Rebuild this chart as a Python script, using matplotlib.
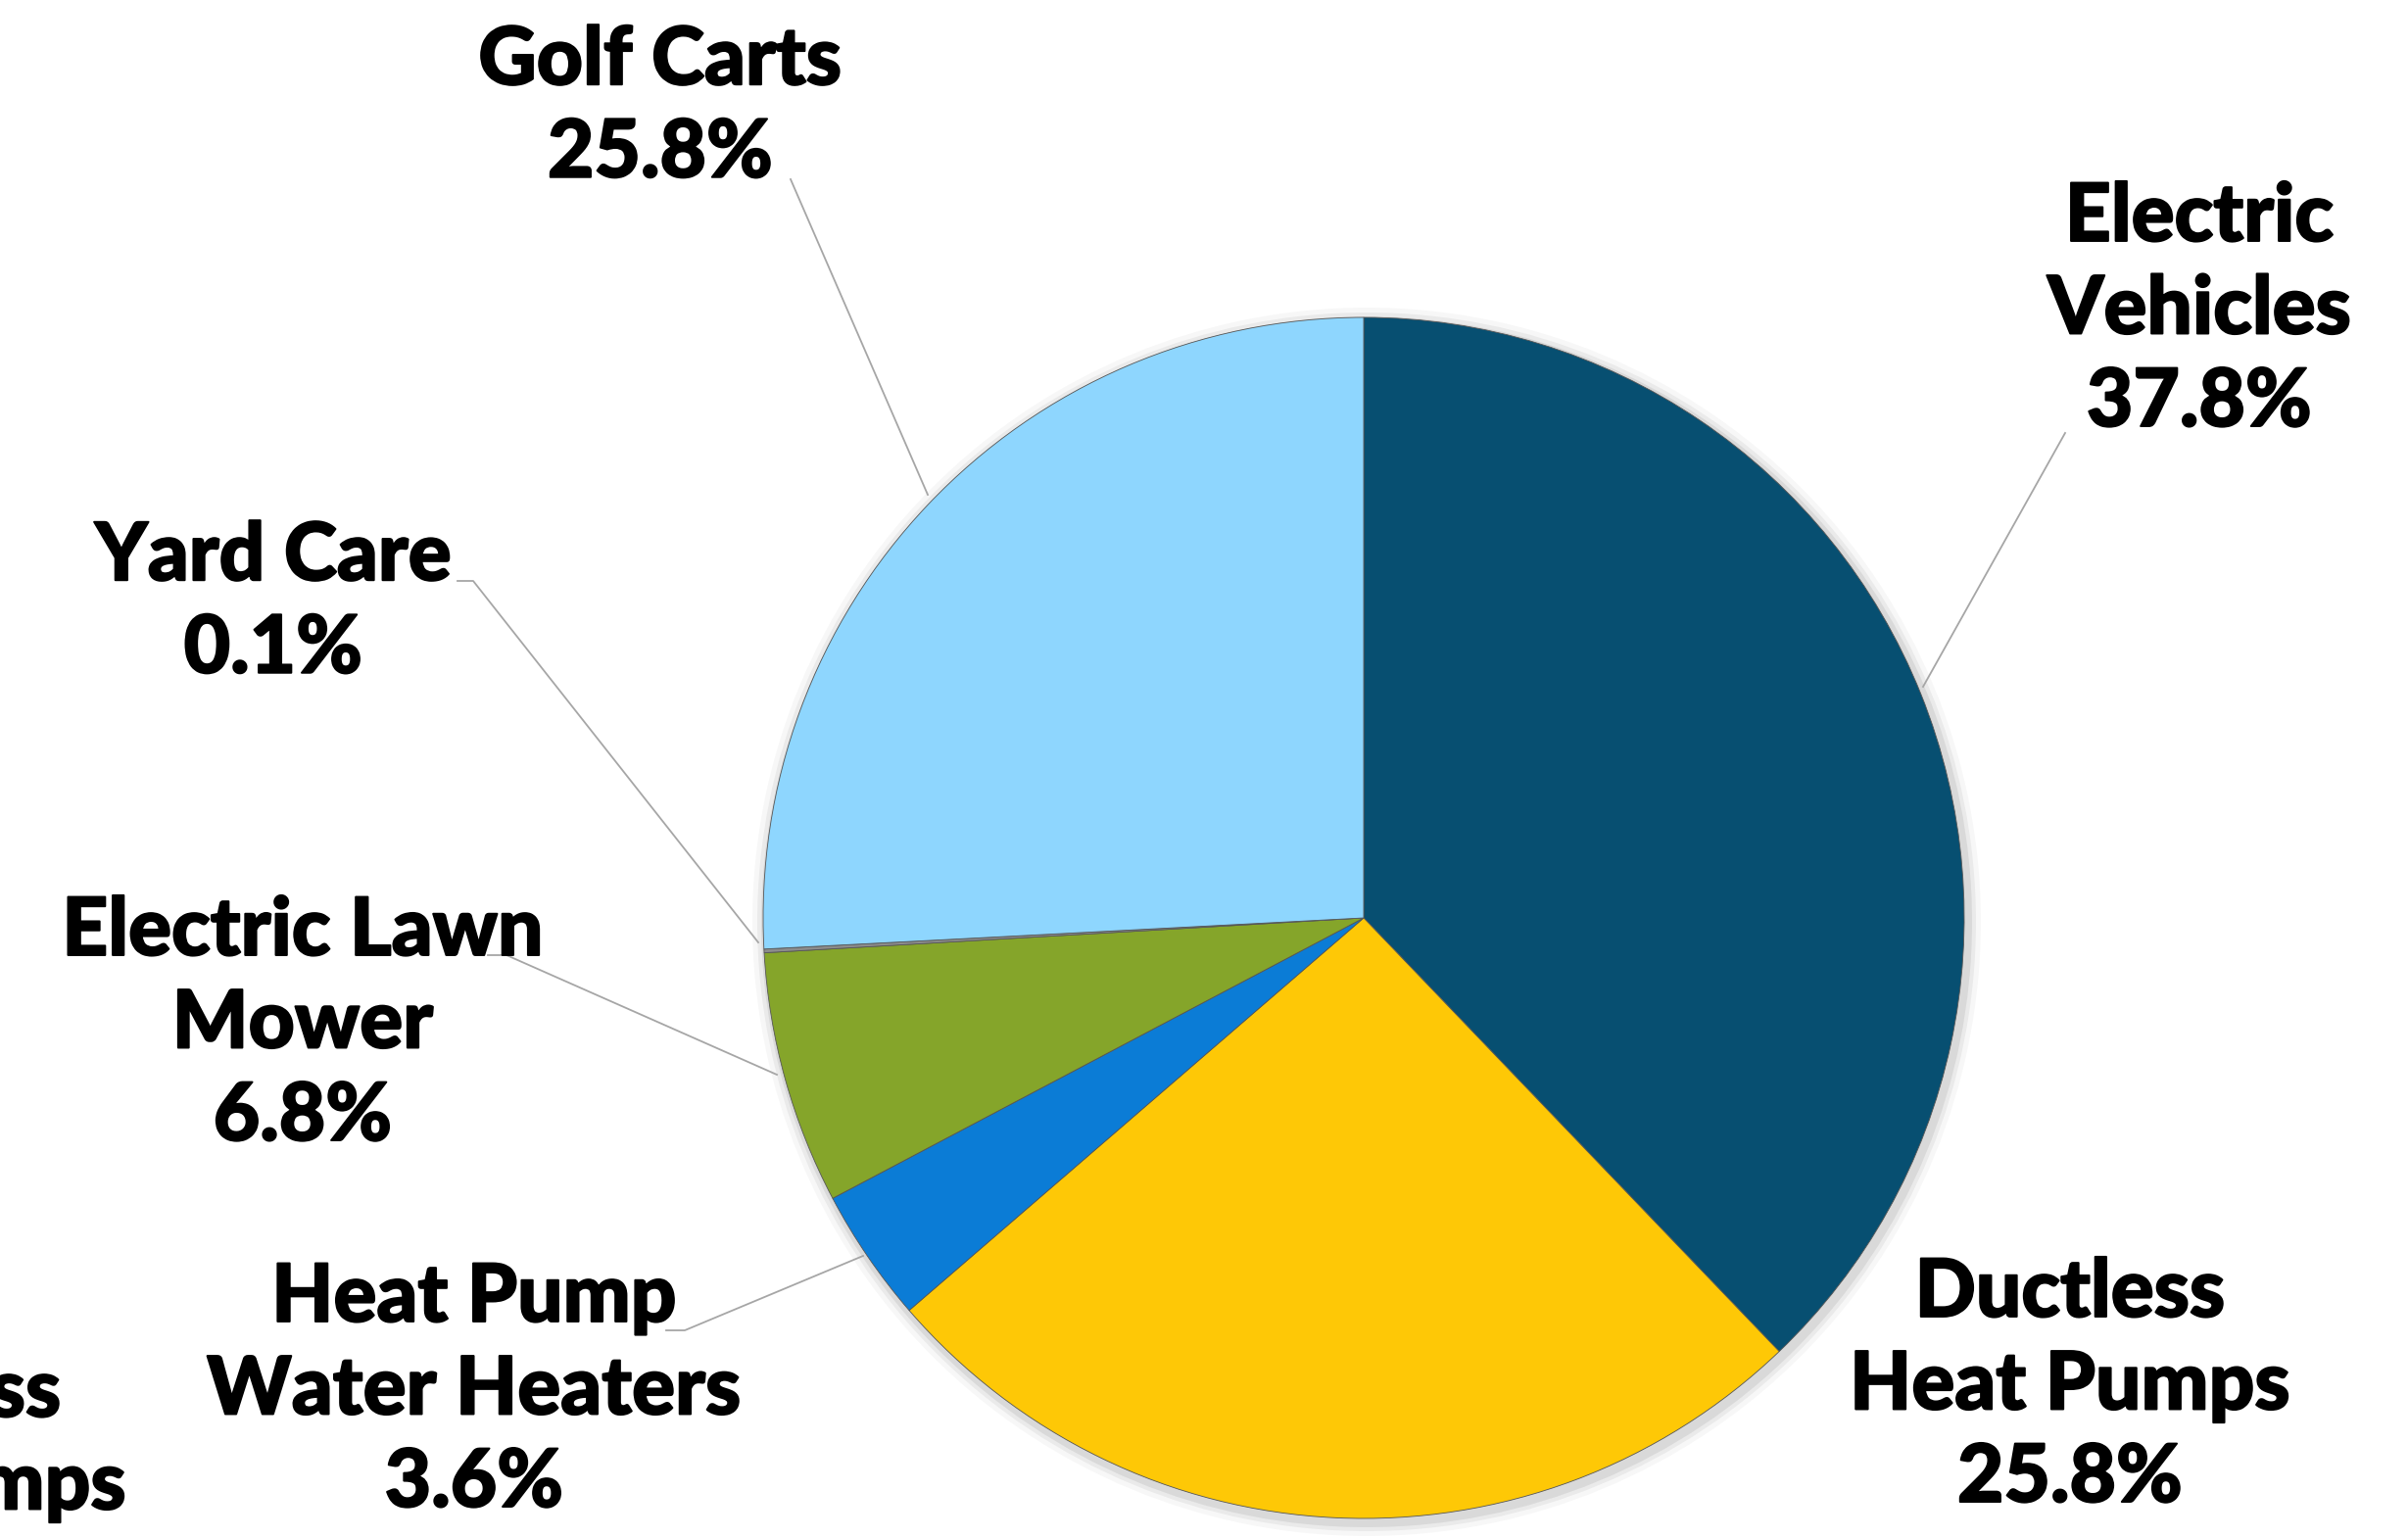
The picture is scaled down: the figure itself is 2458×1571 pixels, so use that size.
import matplotlib.pyplot as plt
import matplotlib.patheffects as pe
from matplotlib.patches import Circle

# slice data, clockwise from 12 o'clock
names = ["Electric\nVehicles", "Ductless\nHeat Pumps", "Heat Pump\nWater Heaters",
         "Electric Lawn\nMower", "Yard Care", "Golf Carts"]
shares = [37.8, 25.8, 3.6, 6.8, 0.1, 25.8]
colors = ["#074F71", "#FEC806", "#0B7CD6", "#85A52A", "#8C8C8C", "#8ED6FE"]

W, H = 2458, 1571
fig = plt.figure(figsize=(W / 100, H / 100), dpi=100)
ax = fig.add_axes([0, 0, 1, 1])

cx, cy, r = 1392, H - 937, 613

# soft drop shadow
for k, a in [(14, 0.03), (9, 0.05), (5, 0.07)]:
    ax.add_patch(Circle((cx + 3, cy - 4), r + k, color="black", alpha=a, lw=0))

wedges, _ = ax.pie(shares, colors=colors, startangle=90, counterclock=False,
                   center=(cx, cy), radius=r, frame=True,
                   wedgeprops=dict(edgecolor="#555555", linewidth=0.6))
ax.set_xlim(0, W)
ax.set_ylim(0, H)
ax.set_aspect("equal")
ax.axis("off")

font = dict(family=["Lato", "DejaVu Sans"], fontweight="black", fontsize=59,
            ha="center", va="center", linespacing=1.32, color="black",
            path_effects=[pe.withStroke(linewidth=1.4, foreground="black")])

# label block centres (pixel coords from top)
label_pos = [(2245, 317), (2113, 1415), (484, 1420), (309, 1046), (279, 616), (674, 110)]
for name, pct, (x, y) in zip(names, shares, label_pos):
    ax.text(x, H - y, f"{name}\n{pct:.1f}%", **font)

# label partly outside the canvas on the left
ax.text(-96, H - 1517, f"{names[1]}\n{shares[1]:.1f}%", **font, clip_on=False)

# leader lines
leaders = [
    [(2108, 442), (1963, 701)],
    [(680, 1358), (699, 1358), (881, 1282)],
    [(498, 975), (517, 975), (793, 1097)],
    [(467, 593), (483, 593), (774, 962)],
    [(807, 183), (947, 505)],
]
for pts in leaders:
    xs = [p[0] for p in pts]
    ys = [H - p[1] for p in pts]
    ax.plot(xs, ys, color="#a6a6a6", lw=1.3)

fig.savefig("out.png", dpi=100)
